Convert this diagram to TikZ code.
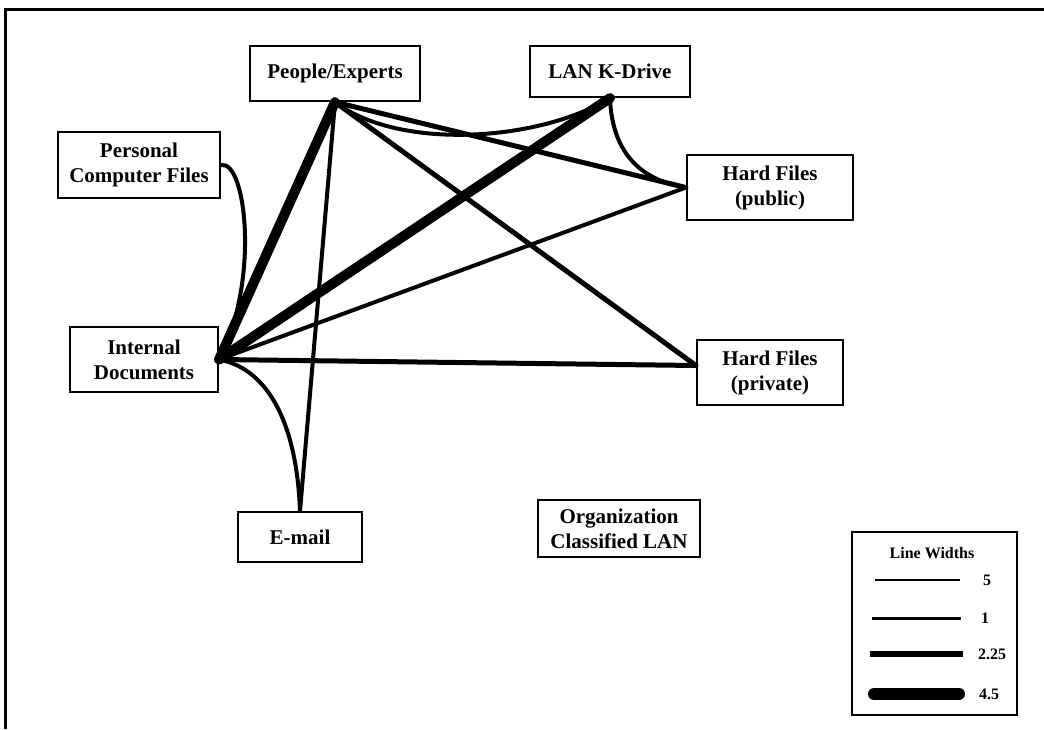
\documentclass[tikz,border=0pt]{standalone}
\usepackage{fontspec}
\setmainfont{Liberation Serif}
\begin{document}
\begin{tikzpicture}[x=1pt,y=-1pt,
  box/.style={draw, line width=2.2pt, align=center, inner sep=0pt,
    font=\bfseries\fontsize{21}{25}\selectfont},
  wthick/.style={line width=10pt, line cap=round},
  wmed/.style={line width=5pt, line cap=round},
  wthin/.style={line width=4pt, line cap=round},
  legtext/.style={font=\bfseries\fontsize{16}{18}\selectfont, inner sep=0pt}]
\useasboundingbox (0,0) rectangle (1044,729);
\fill[white] (0,0) rectangle (1044,729);
% page frame
\draw[line width=3pt] (5,729) -- (5,9) -- (1044,9);
% nodes
\node[box, minimum width=170pt, minimum height=55pt] (people) at (335,73.5) {People/Experts};
\node[box, minimum width=160pt, minimum height=51pt] (lan) at (610,71.5) {LAN K-Drive};
\node[box, minimum width=162pt, minimum height=66pt] (pcf) at (139,165) {Personal\\Computer Files};
\node[box, minimum width=148pt, minimum height=65pt] (internal) at (144,359.5) {Internal\\Documents};
\node[box, minimum width=166pt, minimum height=65pt] (public) at (770,187.5) {Hard Files\\(public)};
\node[box, minimum width=146pt, minimum height=65pt] (private) at (770,372.5) {Hard Files\\(private)};
\node[box, minimum width=124pt, minimum height=50pt] (email) at (300,537) {E-mail};
\node[box, minimum width=162pt, minimum height=57pt] (org) at (619,528.5) {Organization\\Classified LAN};
\coordinate (privin) at ([yshift=7pt]private.west);
% connectors
\draw[wthick] (people.south) -- (internal.east);
\draw[wthick] (lan.south) -- (internal.east);
\draw[wmed] (people.south) -- (public.west);
\draw[wmed] (people.south) -- (privin);
\draw[wthin] (internal.east) -- (public.west);
\draw[wmed] (internal.east) -- (privin);
\draw[wthin] (people.south) -- (email.north);
\draw[wthin] (pcf.east) .. controls +(25,-5) and +(41,-79) .. (internal.east);
\draw[wthin] (internal.east) .. controls +(52,10) and +(-3,-82) .. (email.north);
\draw[wthin] (people.south) .. controls +(65,49) and +(-70,43) .. (lan.south);
\draw[wthin] (lan.south) .. controls +(2,53) and +(-47,-7.5) .. (public.west);
% legend
\node[draw, line width=2pt, minimum width=165pt, minimum height=183pt, inner sep=0pt] (legend) at (934.5,623.5) {};
\node[legtext] (legtitle) at (932,553) {Line Widths};
\draw[line width=2pt] (875,580) -- (960,580);
\node[legtext] (l1) at (987,580) {5};
\draw[line width=3pt] (872,618) -- (961,618);
\node[legtext] (l2) at (985,618) {1};
\draw[line width=6pt] (870,654) -- (963,654);
\node[legtext] (l3) at (992,654) {2.25};
\draw[line width=12pt, line cap=round] (874,694) -- (959,694);
\node[legtext] (l4) at (989,694) {4.5};
\end{tikzpicture}
\end{document}
